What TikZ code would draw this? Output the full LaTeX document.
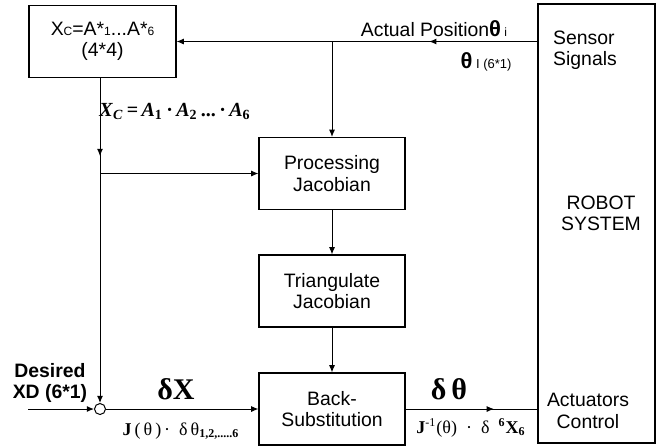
\documentclass[tikz,border=0pt]{standalone}
\usepackage{fontspec}
\setmainfont{Liberation Sans}
\newfontfamily\tnr{Liberation Serif}
\usetikzlibrary{arrows.meta, decorations.markings}

\begin{document}
\begin{tikzpicture}[x=0.5pt, y=-0.5pt, >={Latex[length=3.6pt,width=3pt]},
    blk/.style={rectangle, draw, line width=0.6pt, minimum width=73pt, minimum height=36pt, align=center, font=\fontsize{9.7}{10.6}\selectfont},
    wire/.style={line width=0.5pt},
    lbl/.style={inner sep=0pt, align=center, font=\fontsize{9.7}{10.6}\selectfont},
    midarrow/.style={postaction={decorate}, decoration={markings, mark=at position #1 with {\arrow{>}}}}]
    \useasboundingbox (0,0) rectangle (657,447);

    % blocks
    \node (xc) at (102.5,41.5) [blk, minimum width=73.5pt] {X{\fontsize{6}{6}\selectfont C}=A*{\fontsize{6}{6}\selectfont 1}...A*{\fontsize{6}{6}\selectfont 6}\\(4*4)};
    \node (proc) at (332,173.5) [blk] {Processing\\Jacobian};
    \node (tri) at (332,291) [blk] {Triangulate\\Jacobian};
    \node (back) at (332,409) [blk] {Back-\\Substitution};
    \node (robot) at (596.5,223.5) [blk, minimum width=58.5pt, minimum height=219.5pt] {};
    \node (sum) at (100,409) [circle, draw, line width=0.5pt, minimum size=5.5pt, inner sep=0pt] {};

    % texts inside the robot box
    \node (sens) at (585,50) [lbl, align=left] {Sensor\\Signals};
    \node (rob) at (601,213) [lbl] {ROBOT\\SYSTEM};
    \node (act) at (588,411) [lbl] {Actuators\\Control};

    % feedback path
    \coordinate (fb) at (proc.north |- xc.east);
    \coordinate (br) at (sum.north |- proc.west);
    \coordinate (xd) at (28,409);
    \draw [wire, midarrow=0.3, ->] (robot.west |- xc.east) -- (xc.east);
    \draw [wire, ->] (fb) -- (proc.north);
    \draw [wire, midarrow=0.24, ->] (sum.north |- xc.south) -- (sum.north);
    \draw [wire, ->] (br) -- (proc.west);
    \draw [wire, ->] (proc.south) -- (tri.north);
    \draw [wire, ->] (tri.south) -- (back.north);
    \draw [wire, ->] (xd) -- (sum.west);
    \draw [wire, ->] (sum.east) -- (back.west);
    \draw [wire, midarrow=0.67] (back.east) -- (robot.west |- back.east);

    % labels
    \node (actpos) at (434,29) [lbl] {Actual Position{\fontsize{11}{11}\selectfont\bfseries θ}{\fontsize{6}{6}\selectfont\ i}};
    \node (thI) at (486,62) [lbl] {{\fontsize{11}{11}\selectfont\bfseries θ}{\fontsize{6.5}{6.5}\selectfont\ I (6*1)}};
    \node (xcform) at (175,111) [lbl, font=\tnr\fontsize{10}{11}\selectfont\bfseries] {\textit{X}\textsubscript{\textit{C}}\,=\,\textit{A}\textsubscript{1}\,·\,\textit{A}\textsubscript{2}\,...\,·\,\textit{A}\textsubscript{6}};
    \node (des) at (50,383) [lbl, font=\fontsize{9.7}{10.6}\selectfont\bfseries] {Desired\\XD (6*1)};
    \node (dx) at (176,389) [lbl, font=\tnr\fontsize{15}{15}\selectfont\bfseries] {δX};
    \node (jac) at (181,431) [lbl, font=\tnr\fontsize{9}{9}\selectfont] {\textbf{J}\,(\,θ\,)\,·\ \ δ\,θ\textsubscript{\textbf{1,2,.....6}}};
    \node (dth) at (449,389) [lbl, font=\tnr\fontsize{15}{15}\selectfont\bfseries] {δ\,θ};
    \node (jinv) at (471,428) [lbl, font=\tnr\fontsize{9}{9}\selectfont] {\textbf{J}\textsuperscript{-1}(θ)\ \ ·\ \ δ\ \ \textsuperscript{\textbf{6}}\textbf{X}\textsubscript{\textbf{6}}};
\end{tikzpicture}
\end{document}
